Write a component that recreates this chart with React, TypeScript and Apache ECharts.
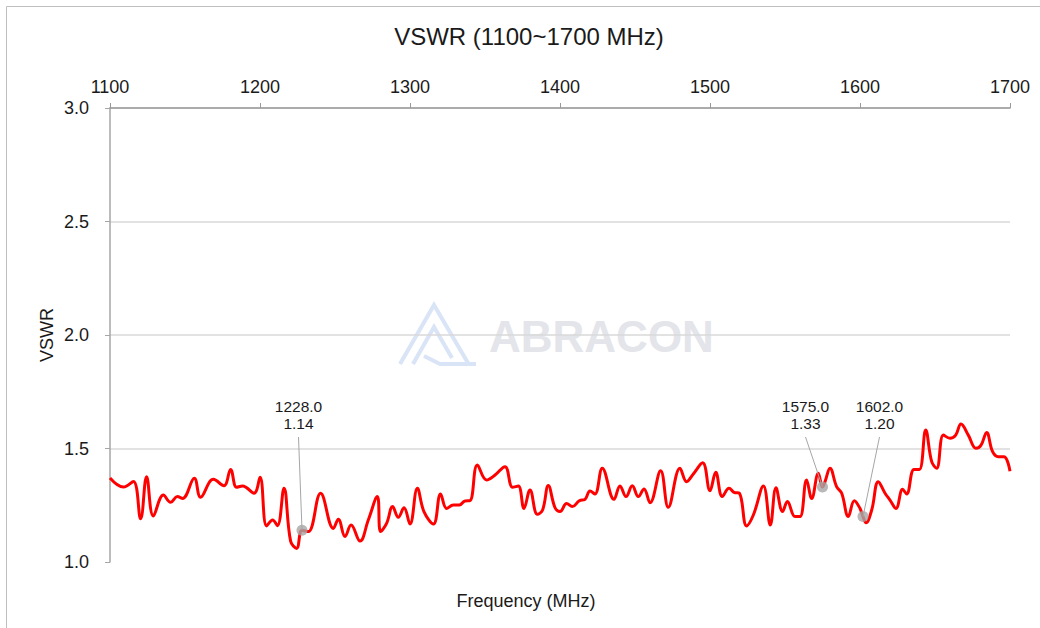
import React, { useEffect, useRef } from "react";
import * as echarts from "echarts";

const freq = [
  1100, 1109, 1115.6, 1120.4, 1124.4, 1128.9, 1135.6, 1140.4, 1144.9, 1148.4,
  1156.2, 1160.4, 1168.9, 1176, 1180.4, 1184.4, 1188.4, 1196, 1200, 1204.4,
  1208.4, 1211.6, 1216, 1220.4, 1224.4, 1228, 1232.2, 1240.4, 1248.9, 1252.2,
  1256.7, 1260.7, 1266.7, 1272.2, 1278.2, 1280.4, 1284.4, 1288.4, 1292.2, 1296,
  1300, 1304.9, 1309.3, 1315.6, 1320.4, 1324.4, 1328.9, 1332.9, 1336.7, 1340,
  1344.9, 1351.1, 1356.7, 1363.3, 1368.4, 1372.2, 1376, 1380, 1384.9, 1388.4,
  1392.2, 1396.7, 1400, 1404.4, 1408.2, 1412.9, 1416.7, 1420, 1423.3, 1428.2,
  1436, 1440, 1444, 1448.2, 1452.2, 1456, 1460, 1467.1, 1472.2, 1480,
  1484.4, 1488.9, 1495.1, 1500, 1503.8, 1508.2, 1512.7, 1516, 1519.6, 1524.4,
  1528.9, 1535.6, 1540.2, 1544, 1548.4, 1551.6, 1556.7, 1560, 1564.4, 1567.8,
  1572.2, 1575, 1576.7, 1580, 1584.4, 1587.8, 1592.2, 1596.2, 1600, 1602,
  1604, 1607.8, 1612.2, 1616.7, 1620, 1624, 1628.4, 1631.1, 1636, 1639.6,
  1643.8, 1647.8, 1651.1, 1655.6, 1660, 1663.8, 1667.3, 1672.2, 1677.3, 1680.7,
  1684.4, 1688.4, 1692.2, 1696, 1700,
];

const vswr = [
  1.37, 1.33, 1.355, 1.19, 1.376, 1.203, 1.295, 1.263, 1.288, 1.28,
  1.369, 1.285, 1.364, 1.336, 1.408, 1.329, 1.335, 1.303, 1.373, 1.159,
  1.185, 1.16, 1.325, 1.092, 1.06, 1.14, 1.134, 1.303, 1.148, 1.188,
  1.112, 1.163, 1.092, 1.185, 1.288, 1.134, 1.17, 1.244, 1.197, 1.239,
  1.167, 1.325, 1.222, 1.167, 1.3, 1.236, 1.251, 1.251, 1.269, 1.27,
  1.427, 1.361, 1.383, 1.42, 1.329, 1.335, 1.236, 1.317, 1.21, 1.229,
  1.337, 1.239, 1.222, 1.258, 1.244, 1.27, 1.276, 1.313, 1.3, 1.413,
  1.276, 1.335, 1.288, 1.336, 1.288, 1.322, 1.261, 1.402, 1.241, 1.413,
  1.354, 1.388, 1.437, 1.314, 1.395, 1.288, 1.325, 1.307, 1.303, 1.159,
  1.207, 1.335, 1.163, 1.327, 1.222, 1.266, 1.2, 1.2, 1.361, 1.28,
  1.391, 1.33, 1.354, 1.413, 1.332, 1.303, 1.2, 1.27, 1.236, 1.2,
  1.173, 1.229, 1.354, 1.303, 1.273, 1.236, 1.32, 1.3, 1.408, 1.408,
  1.581, 1.442, 1.413, 1.559, 1.545, 1.559, 1.608, 1.559, 1.501, 1.515,
  1.571, 1.486, 1.464, 1.464, 1.4,
];

const markerFreq = [1228, 1575, 1602];
const markerVswr = [1.14, 1.33, 1.2];
const markerLabelDx = [-3.5, -17, 16.5];

const xTicks = { min: 1100, max: 1700, interval: 100 };
const yTicks = { min: 1.0, max: 3.0, interval: 0.5 };

const FONT = "'Liberation Sans', Arial, Helvetica, sans-serif";
const TEXT = "#1a1a1a";

export default function App() {
  const ref = useRef<HTMLDivElement>(null);

  useEffect(() => {
    if (!ref.current) return;
    const chart = echarts.init(ref.current, undefined, { renderer: "svg" });
    const lineData = freq.map((f, i) => [f, vswr[i]]);
    const markerData = markerFreq.map((f, i) => [f, markerVswr[i]]);

    chart.setOption({
      animation: false,
      backgroundColor: "#ffffff",
      textStyle: { fontFamily: FONT },
      grid: { left: 110, right: 30, top: 108, bottom: 66, containLabel: false },
      xAxis: {
        type: "value",
        position: "top",
        min: xTicks.min,
        max: xTicks.max,
        interval: xTicks.interval,
        axisLine: { show: true, lineStyle: { color: "#999999", width: 1.5 } },
        axisTick: { show: true, inside: false, length: 5, lineStyle: { color: "#999999" } },
        axisLabel: {
          margin: 12,
          fontSize: 18,
          color: TEXT,
          fontFamily: FONT,
          formatter: (v: number) => String(v),
        },
        splitLine: { show: false },
      },
      yAxis: {
        type: "value",
        min: yTicks.min,
        max: yTicks.max,
        interval: yTicks.interval,
        axisLine: { show: true, lineStyle: { color: "#a6a6a6", width: 1.5 } },
        axisTick: { show: true, inside: false, length: 5, lineStyle: { color: "#a6a6a6" } },
        axisLabel: {
          margin: 21,
          fontSize: 18,
          color: TEXT,
          fontFamily: FONT,
          formatter: (v: number) => v.toFixed(1),
        },
        splitLine: { show: true, showMinLine: false, lineStyle: { color: "#d9d9d9", width: 1.5 } },
      },
      series: [
        {
          type: "line",
          data: lineData,
          smooth: 0.4,
          showSymbol: false,
          lineStyle: { color: "#ff0000", width: 3 },
          z: 3,
        },
        {
          type: "scatter",
          data: markerData,
          symbolSize: 11,
          itemStyle: { color: "#a6a6a6" },
          z: 4,
        },
      ],
    });

    const graphics: any[] = [
      {
        type: "rect",
        shape: { x: 6.5, y: 6.5, width: 1040, height: 630 },
        style: { fill: "none", stroke: "#bfbfbf", lineWidth: 1 },
        silent: true,
        z: -20,
      },
      // watermark logo
      {
        type: "polyline",
        shape: { points: [[400, 364], [434, 305], [468, 363]] },
        style: { stroke: "#d9e4f7", lineWidth: 4, fill: "none" },
        z: -10,
      },
      {
        type: "polyline",
        shape: { points: [[413, 364], [434, 327], [452, 358]] },
        style: { stroke: "#d9e4f7", lineWidth: 4, fill: "none" },
        z: -10,
      },
      {
        type: "polyline",
        shape: { points: [[424, 356], [440, 364], [476, 364]] },
        style: { stroke: "#d9e4f7", lineWidth: 4, fill: "none" },
        z: -10,
      },
      {
        type: "text",
        x: 489,
        y: 336,
        style: {
          text: "ABRACON",
          fontSize: 44,
          fontWeight: "bold",
          fontFamily: FONT,
          fill: "#e3e5ea",
          textAlign: "left",
          textVerticalAlign: "middle",
        },
        z: -10,
      },
      // title
      {
        type: "text",
        x: 529,
        y: 36,
        style: {
          text: "VSWR (1100~1700 MHz)",
          fontSize: 24,
          fontFamily: FONT,
          fill: TEXT,
          textAlign: "center",
          textVerticalAlign: "middle",
        },
      },
      {
        type: "text",
        x: 47,
        y: 335,
        rotation: Math.PI / 2,
        style: {
          text: "VSWR",
          fontSize: 18,
          fontFamily: FONT,
          fill: TEXT,
          textAlign: "center",
          textVerticalAlign: "middle",
        },
      },
      {
        type: "text",
        x: 526,
        y: 601,
        style: {
          text: "Frequency (MHz)",
          fontSize: 18,
          fontFamily: FONT,
          fill: TEXT,
          textAlign: "center",
          textVerticalAlign: "middle",
        },
      },
    ];

    markerFreq.forEach((f, i) => {
      const p = chart.convertToPixel({ gridIndex: 0 }, [f, markerVswr[i]]) as number[];
      const lx = p[0] + markerLabelDx[i];
      graphics.push({
        type: "line",
        shape: { x1: lx, y1: 437, x2: p[0], y2: p[1] },
        style: { stroke: "#a6a6a6", lineWidth: 1 },
        z: 5,
      });
      graphics.push({
        type: "text",
        x: lx,
        y: 398,
        style: {
          text: f.toFixed(1) + "\n" + markerVswr[i].toFixed(2),
          fontSize: 15.5,
          lineHeight: 17,
          fontFamily: FONT,
          fill: TEXT,
          textAlign: "center",
          textVerticalAlign: "top",
        },
        z: 5,
      });
    });

    chart.setOption({ graphic: graphics });

    return () => chart.dispose();
  }, []);

  return (
    <div
      ref={ref}
      style={{ position: "fixed", left: 0, top: 0, width: 1040, height: 628 }}
    />
  );
}
